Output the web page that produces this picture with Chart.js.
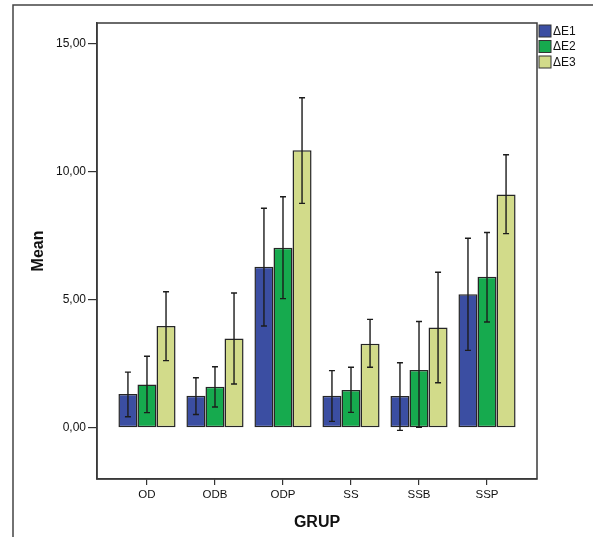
<!DOCTYPE html>
<html>
<head>
<meta charset="utf-8">
<script src="https://cdn.jsdelivr.net/npm/chart.js@4"></script>
<style>
  body { margin: 0; background: #fff; }
  #wrap { width: 593px; height: 537px; position: relative; }
</style>
</head>
<body>
<div id="wrap"><canvas id="meanChart"></canvas></div>
<script>
// values (mean with error bars)
const groups = ["OD", "ODB", "ODP", "SS", "SSB", "SSP"];
const seriesNames = ["ΔE1", "ΔE2", "ΔE3"];

const e1Mean = [1.32, 1.25, 6.29, 1.25, 1.24, 5.21];
const e1Low = [0.43, 0.52, 3.97, 0.25, -0.1, 3.02];
const e1High = [2.17, 1.95, 8.57, 2.23, 2.54, 7.4];

const e2Mean = [1.69, 1.6, 7.03, 1.47, 2.25, 5.89];
const e2Low = [0.59, 0.81, 5.04, 0.6, 0.02, 4.13];
const e2High = [2.79, 2.38, 9.02, 2.36, 4.15, 7.62];

const e3Mean = [3.97, 3.48, 10.83, 3.28, 3.91, 9.11];
const e3Low = [2.62, 1.71, 8.76, 2.36, 1.76, 7.58];
const e3High = [5.31, 5.26, 12.88, 4.23, 6.07, 10.66];

const yTicks = [0, 5, 10, 15];

const colors = ["#3b4ea2", "#16aa4e", "#d2db8a"];
const FONT = "'Liberation Sans', Arial, sans-serif";

function points(values) {
  return values.map((v, i) => ({ x: i, y: v }));
}

// error bars from low/high arrays
const errorBars = {
  id: "errorBars",
  afterDatasetsDraw(chart) {
    const ctx = chart.ctx;
    const yScale = chart.scales.y;
    chart.data.datasets.forEach((ds, d) => {
      const meta = chart.getDatasetMeta(d);
      meta.data.forEach((bar, i) => {
        const yLo = yScale.getPixelForValue(ds.errLow[i]);
        const yHi = yScale.getPixelForValue(ds.errHigh[i]);
        ctx.save();
        ctx.strokeStyle = "#1c1c1c";
        ctx.lineWidth = 1.4;
        ctx.beginPath();
        ctx.moveTo(bar.x, yLo);
        ctx.lineTo(bar.x, yHi);
        ctx.moveTo(bar.x - 3, yLo);
        ctx.lineTo(bar.x + 3, yLo);
        ctx.moveTo(bar.x - 3, yHi);
        ctx.lineTo(bar.x + 3, yHi);
        ctx.stroke();
        ctx.restore();
      });
    });
  },
};

// plot frame, outer page lines and the little legend at top right
const frame = {
  id: "frame",
  afterDraw(chart) {
    const ctx = chart.ctx;
    const a = chart.chartArea;
    ctx.save();
    ctx.strokeStyle = "#3a3a3a";
    ctx.lineWidth = 1.5;
    ctx.strokeRect(a.left, a.top, a.right - a.left, a.bottom - a.top);

    ctx.strokeStyle = "#444";
    ctx.beginPath();
    ctx.moveTo(13, chart.height);
    ctx.lineTo(13, 5);
    ctx.lineTo(chart.width, 5);
    ctx.stroke();

    ctx.font = "12px " + FONT;
    ctx.textBaseline = "middle";
    chart.data.datasets.forEach((ds, i) => {
      const y = 31 + i * 15.5;
      ctx.fillStyle = ds.backgroundColor;
      ctx.fillRect(a.right + 2, y - 6, 12, 12);
      ctx.strokeStyle = "#333";
      ctx.lineWidth = 1;
      ctx.strokeRect(a.right + 2, y - 6, 12, 12);
      ctx.fillStyle = "#111";
      ctx.fillText(ds.label, a.right + 16, y + 0.5);
    });
    ctx.restore();
  },
};

const datasets = [
  { mean: e1Mean, low: e1Low, high: e1High },
  { mean: e2Mean, low: e2Low, high: e2High },
  { mean: e3Mean, low: e3Low, high: e3High },
].map((s, i) => ({
  label: seriesNames[i],
  data: points(s.mean),
  errLow: s.low,
  errHigh: s.high,
  backgroundColor: colors[i],
  borderColor: "#262626",
  borderWidth: 1.5,
  borderSkipped: false,
  categoryPercentage: 0.84,
  barPercentage: 1,
}));

const ctx = document.getElementById("meanChart").getContext("2d");
const meanChart = new Chart(ctx, {
  type: "bar",
  data: { datasets: datasets },
  options: {
    responsive: true,
    maintainAspectRatio: false,
    animation: false,
    layout: { padding: { top: 23, right: 56, left: 0, bottom: 0 } },
    plugins: {
      legend: { display: false },
      tooltip: { enabled: false },
    },
    scales: {
      x: {
        type: "linear",
        min: -0.735,
        max: 5.735,
        offset: false,
        afterBuildTicks: (scale) => {
          scale.ticks = groups.map((g, i) => ({ value: i }));
        },
        afterFit: (scale) => {
          scale.height = 58;
        },
        ticks: {
          callback: (v) => groups[v],
          font: { family: FONT, size: 11.5 },
          color: "#111",
          padding: 3,
          maxRotation: 0,
          autoSkip: false,
        },
        grid: {
          offset: false,
          drawOnChartArea: false,
          drawTicks: true,
          tickLength: 6,
          color: "#333",
          lineWidth: 1.2,
        },
        border: { display: true, color: "#3a3a3a", width: 1.5 },
        title: {
          display: true,
          text: "GRUP",
          font: { family: FONT, size: 16, weight: "bold" },
          color: "#111",
          padding: { top: 0, bottom: 5 },
        },
      },
      y: {
        min: -2,
        max: 15.8,
        afterBuildTicks: (scale) => {
          scale.ticks = yTicks.map((v) => ({ value: v }));
        },
        afterFit: (scale) => {
          scale.width = 97;
        },
        ticks: {
          callback: (v) => v.toFixed(2).replace(".", ","),
          font: { family: FONT, size: 12 },
          color: "#111",
          padding: 2,
        },
        grid: {
          drawOnChartArea: false,
          drawTicks: true,
          tickLength: 9,
          color: "#333",
          lineWidth: 1.2,
        },
        border: { display: true, color: "#3a3a3a", width: 1.5 },
        title: {
          display: true,
          text: "Mean",
          font: { family: FONT, size: 16, weight: "bold" },
          color: "#111",
          padding: { top: 29, bottom: 0 },
        },
      },
    },
  },
  plugins: [errorBars, frame],
});
</script>
</body>
</html>
